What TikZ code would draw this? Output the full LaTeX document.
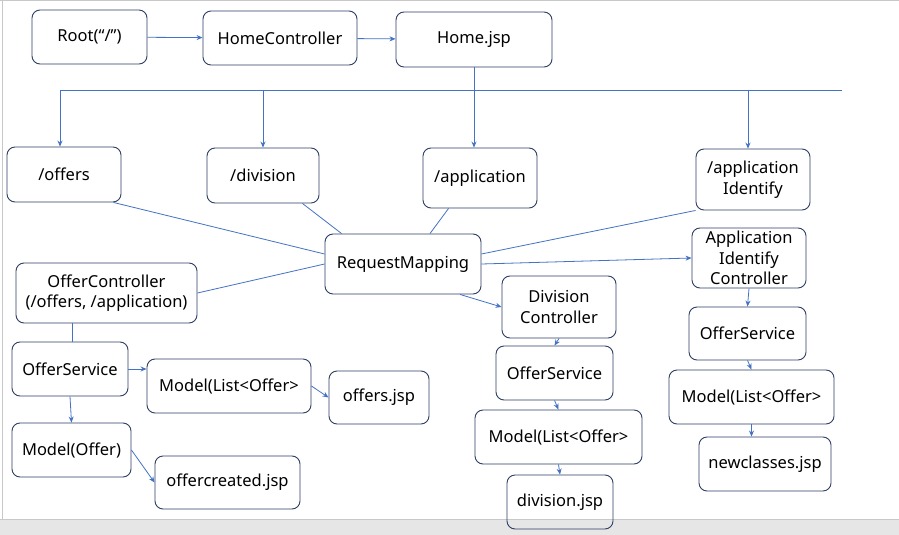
\documentclass[tikz,border=0pt]{standalone}
\usepackage{fontspec}
\setmainfont{Noto Sans}
\usetikzlibrary{arrows.meta}
\definecolor{linec}{RGB}{68,114,196}
\definecolor{boxc}{RGB}{47,62,100}
\definecolor{bandc}{RGB}{230,230,230}
\definecolor{edgec}{RGB}{200,200,200}

\begin{document}
\begin{tikzpicture}[x=1pt,y=-1pt,
  box/.style={draw=boxc, line width=0.9pt, rounded corners=8pt, inner sep=0pt, align=center,
    font=\fontsize{16.5}{20.5}\selectfont},
  conn/.style={draw=linec, line width=0.8pt},
  arr/.style={conn, -{Stealth[length=6pt,width=5pt]}}]
\useasboundingbox (0,0) rectangle (899,535);
\fill [white] (0,0) rectangle (899,535);
\fill [bandc] (0,519) rectangle (899,535);
\draw [edgec] (0,0.5) -- (899,0.5);
\draw [edgec] (2,0) -- (2,519);
\draw [edgec] (0,519) -- (899,519);
% top row
\node [box, minimum width=115, minimum height=54] (root) at (89.5,37) {Root(“/”)};
\node [box, minimum width=154, minimum height=54] (home) at (280,38) {HomeController};
\node [box, minimum width=156, minimum height=55] (homejsp) at (474,39.5) {Home.jsp};
% mappings
\node [box, minimum width=114, minimum height=55] (offers) at (64,174.5) {/offers};
\node [box, minimum width=112, minimum height=55] (division) at (263,175.5) {/division};
\node [box, minimum width=114, minimum height=60] (application) at (480,178) {/application};
\node [box, minimum width=114, minimum height=61] (appident) at (753,179.5) {/application\\Identify};
\node [box, minimum width=156, minimum height=60] (reqmap) at (403,264) {RequestMapping};
% controllers
\node [box, minimum width=181, minimum height=60] (offerctrl) at (106.5,293) {OfferController\\(/offers, /application)};
\node [box, minimum width=114, minimum height=62] (divctrl) at (559,307) {Division\\Controller};
\node [box, minimum width=114, minimum height=60] (aictrl) at (749,258) {Application\\Identify\\Controller};
% left column
\node [box, minimum width=116, minimum height=54] (svcL) at (70,369) {OfferService};
\node [box, minimum width=164, minimum height=54] (listL) at (229,386) {Model(List<Offer>};
\node [box, minimum width=100, minimum height=53] (offersjsp) at (379,397.5) {offers.jsp};
\node [box, minimum width=119, minimum height=54] (modeloffer) at (71.5,450) {Model(Offer)};
\node [box, minimum width=145, minimum height=53] (created) at (227.5,482.5) {offercreated.jsp};
% middle column
\node [box, minimum width=117, minimum height=54] (svcM) at (554.5,373) {OfferService};
\node [box, minimum width=167, minimum height=54] (listM) at (558.5,437) {Model(List<Offer>};
\node [box, minimum width=106, minimum height=54] (divjsp) at (560,502) {division.jsp};
% right column
\node [box, minimum width=117, minimum height=53] (svcR) at (747.5,333.5) {OfferService};
\node [box, minimum width=165, minimum height=54] (listR) at (751.5,397) {Model(List<Offer>};
\node [box, minimum width=132, minimum height=54] (newjsp) at (765,464) {newclasses.jsp};
% bus
\coordinate (busA) at (60,90);
\coordinate (busB) at (263,90);
\coordinate (busC) at (748,90);
\coordinate (busE) at (842,90);
\draw [arr] (root) -- (home);
\draw [arr] (home) -- (homejsp);
\draw [arr] (homejsp.south) -- (homejsp.south |- application.north);
\draw [conn] (busA) -- (busE);
\draw [arr] (busA) -- (busA |- offers.north);
\draw [arr] (busB) -- (busB |- division.north);
\draw [arr] (busC) -- (busC |- appident.north);
% to RequestMapping
\draw [conn] ([xshift=-8pt]offers.south east) -- ([yshift=10pt]reqmap.west);
\draw [conn] ([xshift=-17pt]division.south east) -- ([xshift=17pt]reqmap.north west);
\draw [conn] ([xshift=26pt]application.south west) -- ([xshift=27pt]reqmap.north);
\draw [conn] (appident.south west) -- ([yshift=10pt]reqmap.east);
\draw [conn] (offerctrl.east) -- (reqmap.west);
\draw [arr] (reqmap.east) -- (aictrl.west);
\draw [arr] ([xshift=57pt]reqmap.south) -- (divctrl.west);
% left
\draw [conn] ([xshift=-34.5pt]offerctrl.south) -- ([xshift=-34.5pt]offerctrl.south |- svcL.north);
\draw [arr] (svcL.east) -- (svcL.east -| listL.west);
\draw [arr] (listL.east) -- (offersjsp.west);
\draw [arr] (svcL.south) -- (modeloffer.north);
\draw [arr] (modeloffer.east) -- (created.west);
% middle
\draw [arr] (divctrl.south) -- (svcM.north);
\draw [arr] (svcM.south) -- (listM.north);
\draw [arr] (listM.south) -- (divjsp.north);
% right
\draw [arr] (aictrl.south) -- (svcR.north);
\draw [arr] (svcR.south) -- (listR.north);
\draw [arr] (listR.south) -- (listR.south |- newjsp.north);
\end{tikzpicture}
\end{document}
